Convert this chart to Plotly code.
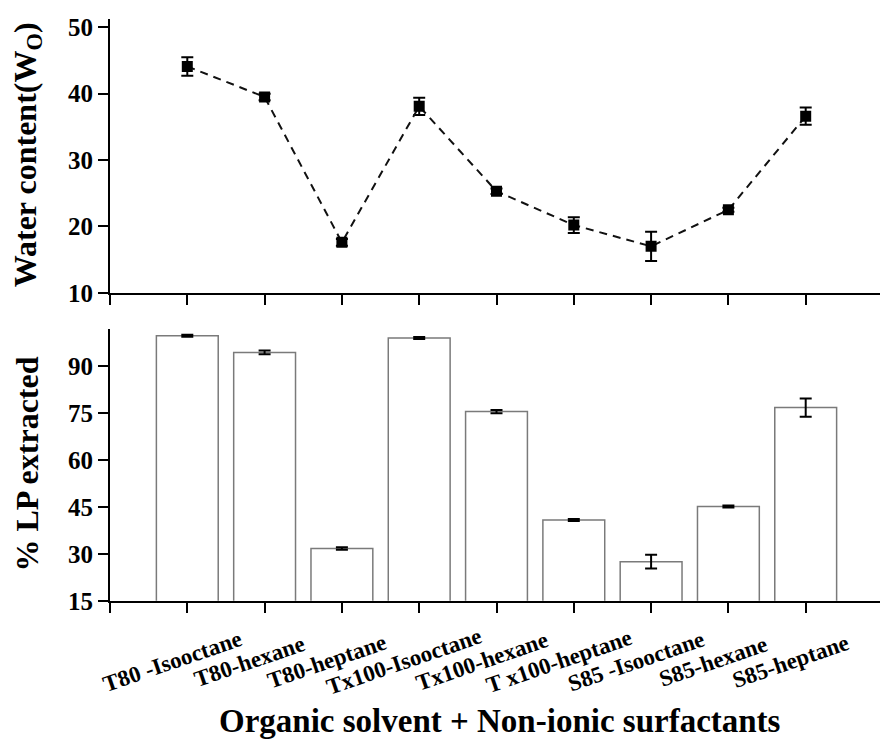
import plotly.graph_objects as go

# Sample systems (surfactant + organic solvent)
categories = ["T80 -Isooctane", "T80-hexane", "T80-heptane", "Tx100-Isooctane",
              "Tx100-hexane", "T x100-heptane", "S85 -Isooctane", "S85-hexane", "S85-heptane"]

# Water content (Wo) with error
water_content = [44.1, 39.5, 17.6, 38.1, 25.3, 20.2, 17.0, 22.5, 36.6]
water_err = [1.4, 0.5, 0.5, 1.3, 0.4, 1.2, 2.2, 0.3, 1.3]

# % LP extracted with error
lp_extracted = [99.6, 94.3, 31.7, 98.9, 75.4, 40.8, 27.5, 45.1, 76.7]
lp_err = [0.3, 0.6, 0.4, 0.3, 0.5, 0.3, 2.2, 0.3, 2.9]

top_ticks = [10, 20, 30, 40, 50]
bottom_ticks = [15, 30, 45, 60, 75, 90]

FONT = "Liberation Serif"
W, H = 880, 740
ML = 110
x_pos = list(range(1, len(categories) + 1))

fig = go.Figure()

fig.add_trace(go.Scatter(
    x=x_pos, y=water_content, xaxis="x", yaxis="y",
    mode="lines+markers",
    line=dict(color="#111111", width=2, dash="8px,6px"),
    marker=dict(symbol="square", size=11, color="#000000"),
    error_y=dict(type="data", array=water_err, color="#000000", thickness=2, width=6),
    showlegend=False,
))

fig.add_trace(go.Bar(
    x=x_pos, y=lp_extracted, xaxis="x2", yaxis="y2",
    width=0.8,
    marker=dict(color="white", line=dict(color="#7a7a7a", width=1.5)),
    error_y=dict(type="data", array=lp_err, color="#000000", thickness=2, width=6),
    showlegend=False,
))

axis_common = dict(
    showline=True, linecolor="black", linewidth=2,
    ticks="outside", ticklen=10, tickwidth=2, tickcolor="black",
    showgrid=False, zeroline=False,
)
tickfont = dict(family=FONT, size=25, color="black")

plot_w = W - ML
x_range = [0, plot_w / 77.3]

fig.update_layout(
    width=W, height=H,
    margin=dict(l=ML, r=0, t=0, b=0),
    paper_bgcolor="white", plot_bgcolor="white",
    font=dict(family=FONT, color="black"),
    xaxis=dict(**axis_common, domain=[0, 1], range=x_range, anchor="y",
               tickvals=list(range(0, 11)), showticklabels=False),
    yaxis=dict(**axis_common, domain=[1 - 296 / H, 1 - 15 / H], range=[10, 51.3],
               anchor="x", tickvals=top_ticks,
               ticktext=[f"<b>{v}</b>" for v in top_ticks], tickfont=tickfont),
    xaxis2=dict(**axis_common, domain=[0, 1], range=x_range, anchor="y2",
                tickvals=list(range(0, 11)), showticklabels=False),
    yaxis2=dict(**axis_common, domain=[1 - 611.7 / H, 1 - 332.7 / H], range=[15, 101.9],
                anchor="x2", tickvals=bottom_ticks,
                ticktext=[f"<b>{v}</b>" for v in bottom_ticks], tickfont=tickfont),
)

title_font = dict(family=FONT, size=32, color="black")
ytitle_x = (27 - ML) / plot_w

fig.add_annotation(text="<b>Water content(W<sub>O</sub>)</b>", xref="paper", yref="paper",
                   x=ytitle_x, y=1 - 155 / H, xanchor="center", yanchor="middle",
                   textangle=-90, showarrow=False, font=title_font)
fig.add_annotation(text="<b>% LP extracted</b>", xref="paper", yref="paper",
                   x=ytitle_x, y=1 - 472 / H, xanchor="center", yanchor="middle",
                   textangle=-90, showarrow=False, font=title_font)
fig.add_annotation(text="<b>Organic solvent + Non-ionic surfactants</b>", xref="paper", yref="paper",
                   x=(500 - ML) / plot_w, y=1 - 735 / H, xanchor="center", yanchor="middle",
                   showarrow=False, font=dict(family=FONT, size=33, color="black"))

# Slanted category labels under the lower panel
for xp, label in zip(x_pos, categories):
    fig.add_annotation(text=f"<b>{label}</b>", xref="x2", yref="paper", x=xp, xshift=-15,
                       y=1 - 674 / H, xanchor="center", yanchor="middle",
                       textangle=-19, showarrow=False,
                       font=dict(family=FONT, size=23, color="black"))

fig.write_html("out.html")
